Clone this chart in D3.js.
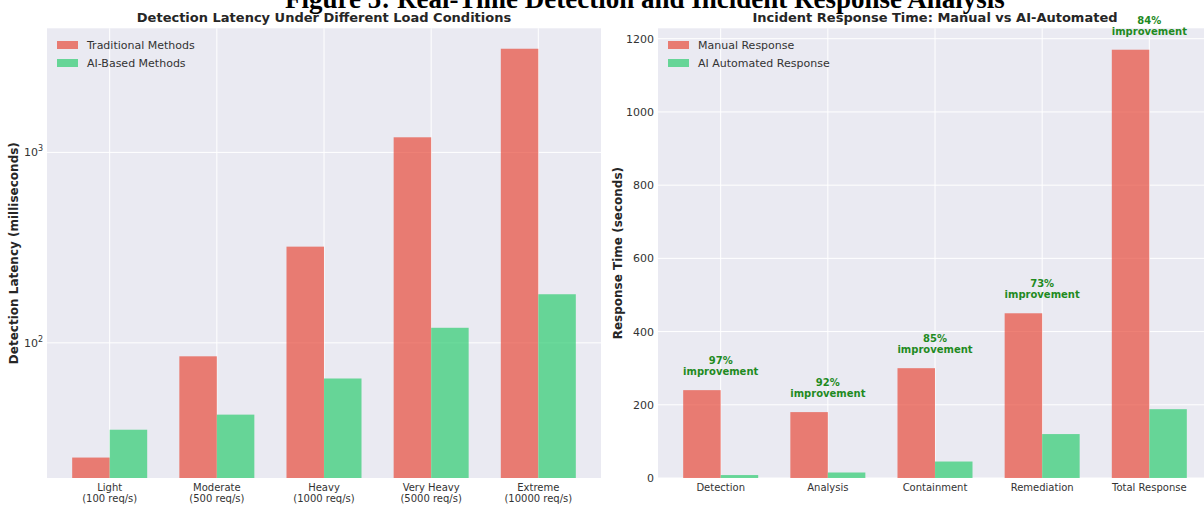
<!DOCTYPE html>
<html>
<head>
<meta charset="utf-8">
<script src="https://cdn.jsdelivr.net/npm/d3@7/dist/d3.min.js"></script>
<style>
  body { margin: 0; background: #fff; }
  svg { display: block; }
  text { font-family: "DejaVu Sans", sans-serif; fill: #262626; }
</style>
</head>
<body>
<svg id="chart" width="1204" height="506"></svg>
<script>
// left panel: detection latency (ms), log scale
var loadLabels = [["Light", "(100 req/s)"], ["Moderate", "(500 req/s)"], ["Heavy", "(1000 req/s)"],
                  ["Very Heavy", "(5000 req/s)"], ["Extreme", "(10000 req/s)"]];
var traditionalLatency = [25, 85, 320, 1200, 3500];
var aiLatency = [35, 42, 65, 120, 180];
var logTicks = [100, 1000];

// right panel: incident response (seconds)
var phases = ["Detection", "Analysis", "Containment", "Remediation", "Total Response"];
var manualTime = [240, 180, 300, 450, 1170];
var aiTime = [8, 15, 45, 120, 188];
var linearTicks = [0, 200, 400, 600, 800, 1000, 1200];

var RED = "#E74C3C", GREEN = "#2ECC71", BG = "#EAEAF2";
var barW = 0.35;

var svg = d3.select("#chart");

// figure title (cut at the top in the original)
svg.append("text")
    .attr("x", 645).attr("y", 8)
    .attr("text-anchor", "middle")
    .style("font-family", "'Liberation Serif', serif")
    .style("font-weight", "bold").style("font-size", "27px")
    .style("fill", "#000")
    .text("Figure 5: Real-Time Detection and Incident Response Analysis");

function xScaleFor(n, x0, x1) {
    var pad = 0.05 * (n - 1 + 2 * barW);
    return d3.scaleLinear().domain([-barW - pad, n - 1 + barW + pad]).range([x0, x1]);
}

function drawPanel(opt) {
    var g = svg.append("g");
    var x = xScaleFor(opt.cats.length, opt.x0, opt.x1);
    var y = opt.y;
    var top = 28.3, bottom = 478;

    g.append("rect").attr("x", opt.x0).attr("y", top)
        .attr("width", opt.x1 - opt.x0).attr("height", bottom - top).attr("fill", BG);

    // grid
    g.selectAll(".hg").data(opt.ticks).enter().append("line")
        .attr("x1", opt.x0).attr("x2", opt.x1)
        .attr("y1", function(d) { return y(d); }).attr("y2", function(d) { return y(d); })
        .attr("stroke", "#fff").attr("stroke-width", 1);
    g.selectAll(".vg").data(opt.cats).enter().append("line")
        .attr("x1", function(d, i) { return x(i); }).attr("x2", function(d, i) { return x(i); })
        .attr("y1", top).attr("y2", bottom)
        .attr("stroke", "#fff").attr("stroke-width", 1);

    var base = y.range()[0];
    g.selectAll(".b1").data(opt.a).enter().append("rect")
        .attr("x", function(d, i) { return x(i - barW); })
        .attr("width", x(barW) - x(0))
        .attr("y", function(d) { return y(d); })
        .attr("height", function(d) { return base - y(d); })
        .attr("fill", RED).attr("fill-opacity", 0.7);
    g.selectAll(".b2").data(opt.b).enter().append("rect")
        .attr("x", function(d, i) { return x(i); })
        .attr("width", x(barW) - x(0))
        .attr("y", function(d) { return y(d); })
        .attr("height", function(d) { return base - y(d); })
        .attr("fill", GREEN).attr("fill-opacity", 0.7);

    // x tick labels
    var xl = g.selectAll(".xl").data(opt.cats).enter().append("text")
        .attr("text-anchor", "middle").style("font-size", "10px").style("fill", "#333")
        .attr("transform", function(d, i) { return "translate(" + x(i) + ",491)"; });
    xl.selectAll("tspan").data(function(d) { return Array.isArray(d) ? d : [d]; })
        .enter().append("tspan")
        .attr("x", 0).attr("dy", function(d, i) { return i ? 11 : 0; })
        .text(function(d) { return d; });

    // y tick labels
    var yl = g.selectAll(".yl").data(opt.ticks).enter().append("text")
        .attr("x", opt.x0 - 4).attr("y", function(d) { return y(d) + 4; })
        .attr("text-anchor", "end").style("font-size", "11px").style("fill", "#333");
    opt.tickText(yl);

    // titles
    g.append("text").attr("x", (opt.x0 + opt.x1) / 2).attr("y", 22)
        .attr("text-anchor", "middle").style("font-weight", "bold").style("font-size", "13px")
        .text(opt.title);
    g.append("text")
        .attr("transform", "translate(" + opt.labelX + "," + (top + bottom) / 2 + ") rotate(-90)")
        .attr("text-anchor", "middle").style("font-weight", "bold").style("font-size", "12px")
        .text(opt.ylabel);

    // legend
    var lg = g.append("g").attr("transform", "translate(" + (opt.x0 + 10) + ",45)");
    [[opt.names[0], RED], [opt.names[1], GREEN]].forEach(function(it, i) {
        lg.append("rect").attr("x", 0).attr("y", i * 18 - 4).attr("width", 21).attr("height", 8)
            .attr("fill", it[1]).attr("fill-opacity", 0.7);
        lg.append("text").attr("x", 30).attr("y", i * 18 + 4).style("font-size", "11px")
            .style("fill", "#333").text(it[0]);
    });
    return {g: g, x: x, y: y};
}

// left panel
var lo = Math.log10(d3.min(traditionalLatency.concat(aiLatency)));
var hi = Math.log10(d3.max(traditionalLatency.concat(aiLatency)));
var m = 0.05 * (hi - lo);
var yLog = d3.scaleLog().domain([Math.pow(10, lo - m), Math.pow(10, hi + m)]).range([478, 28.3]);

drawPanel({
    x0: 47, x1: 601, y: yLog, ticks: logTicks, cats: loadLabels,
    a: traditionalLatency, b: aiLatency,
    names: ["Traditional Methods", "AI-Based Methods"],
    title: "Detection Latency Under Different Load Conditions",
    ylabel: "Detection Latency (milliseconds)", labelX: 18,
    tickText: function(sel) {
        sel.append("tspan").text("10");
        sel.append("tspan").attr("dy", -5).style("font-size", "8px")
            .text(function(d) { return Math.round(Math.log10(d)); });
    }
});

// right panel
var yLin = d3.scaleLinear().domain([0, d3.max(manualTime) * 1.05]).range([478, 28.3]);
var right = drawPanel({
    x0: 658, x1: 1212, y: yLin, ticks: linearTicks, cats: phases,
    a: manualTime, b: aiTime,
    names: ["Manual Response", "AI Automated Response"],
    title: "Incident Response Time: Manual vs AI-Automated",
    ylabel: "Response Time (seconds)", labelX: 622,
    tickText: function(sel) { sel.text(function(d) { return d; }); }
});

// improvement annotations
var ann = right.g.selectAll(".ann").data(manualTime).enter().append("text")
    .attr("text-anchor", "middle")
    .style("font-weight", "bold").style("font-size", "10px").style("fill", "#1f8a1f")
    .attr("transform", function(d, i) { return "translate(" + right.x(i) + "," + (right.y(d + 30) - 15) + ")"; });
ann.append("tspan").attr("x", 0).attr("dy", 0)
    .text(function(d, i) { return Math.round((d - aiTime[i]) / d * 100) + "%"; });
ann.append("tspan").attr("x", 0).attr("dy", 11).text("improvement");
</script>
</body>
</html>
